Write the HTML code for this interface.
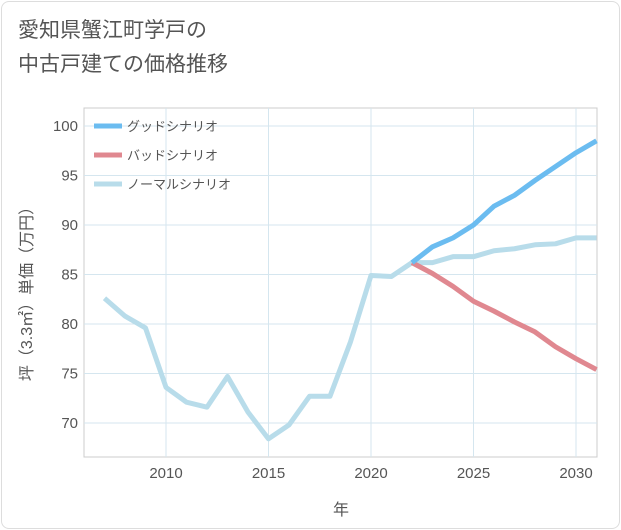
<!DOCTYPE html>
<html><head><meta charset="utf-8"><style>
body{margin:0;background:#fff;}
#wrap{position:relative;width:621px;height:530px;font-family:"Liberation Sans","Noto Sans CJK JP",sans-serif;}
#frame{position:absolute;left:1px;top:1px;width:617px;height:526px;border:1px solid #ddd;border-radius:8px;}
#title{position:absolute;left:18px;top:14px;font-size:21px;line-height:34px;color:#555;}
</style></head><body>
<div id="wrap">
<div id="frame"></div>
<div id="title">愛知県蟹江町学戸の<br>中古戸建ての価格推移</div>
<svg id="chart" width="621" height="530" style="position:absolute;left:0;top:0"></svg>
</div>
<script>
const years=[2007,2008,2009,2010,2011,2012,2013,2014,2015,2016,2017,2018,2019,2020,2021,2022,2023,2024,2025,2026,2027,2028,2029,2030,2031];
const normalVals=[82.6,80.8,79.6,73.6,72.1,71.6,74.7,71.1,68.4,69.8,72.7,72.7,78.2,84.9,84.8,86.2,86.2,86.8,86.8,87.4,87.6,88.0,88.1,88.7,88.7];
const goodYears=[2022,2023,2024,2025,2026,2027,2028,2029,2030,2031];
const goodVals=[86.2,87.8,88.7,90.0,91.9,93.0,94.5,95.9,97.3,98.5];
const badVals=[86.2,85.1,83.8,82.3,81.3,80.2,79.2,77.7,76.5,75.4];
const xTicks=[2010,2015,2020,2025,2030];
const yTicks=[70,75,80,85,90,95,100];
const legendLabels=["グッドシナリオ","バッドシナリオ","ノーマルシナリオ"];
const legendColors=["#6bbcf0","#e08890","#b8dcea"];

const L=84,R=597,T=108,B=457;
const x=v=>166+(v-2010)*(576-166)/20;
const y=v=>423-(v-70)*(423-126)/30;
const svg=document.getElementById('chart');
const NS='http://www.w3.org/2000/svg';
function mk(t,a){const e=document.createElementNS(NS,t);for(const k in a)e.setAttribute(k,a[k]);svg.appendChild(e);return e;}
let bg=mk('rect',{x:L,y:T,width:R-L,height:B-T,fill:'#fff',stroke:'#ccc'});


xTicks.forEach(t=>{
 const g=mk('line',{x1:x(t),x2:x(t),y1:T,y2:B,stroke:'#d5e6ef'});
 
 
 const tx=mk('text',{x:x(t),y:B+21,'text-anchor':'middle','font-size':15,fill:'#555'});tx.textContent=t;
 
 
});
yTicks.forEach(t=>{
 const g=mk('line',{x1:L,x2:R,y1:y(t),y2:y(t),stroke:'#d5e6ef'});
 
 
 const tx=mk('text',{x:L-6,y:y(t)+5,'text-anchor':'end','font-size':15,fill:'#555'});tx.textContent=t;
 
 
});
function line(xs,vs,c,name){
 const p=mk('polyline',{points:xs.map((v,i)=>x(v)+','+y(vs[i])).join(' '),fill:'none',stroke:c,'stroke-width':5,'stroke-linejoin':'round'});
 
 
}
line(years,normalVals,legendColors[2],'normal-scenario-line');
line(goodYears,badVals,legendColors[1],'bad-scenario-line');
line(goodYears,goodVals,legendColors[0],'good-scenario-line');
legendLabels.forEach((l,i)=>{
 const yy=126+i*29;
 const s=mk('line',{x1:94,x2:122,y1:yy,y2:yy,stroke:legendColors[i],'stroke-width':5});
 
 
 const t=mk('text',{x:127,y:yy+5,'font-size':13,fill:'#555'});t.textContent=l;
 
 
});
const xt=mk('text',{x:341,y:515,'text-anchor':'middle','font-size':16,fill:'#555'});xt.textContent='年';


const yt=mk('text',{x:0,y:0,'text-anchor':'middle','font-size':16,fill:'#555',transform:'translate(32,290) rotate(-90)'});yt.textContent='坪（3.3㎡）単価（万円）';


</script>
</body></html>
